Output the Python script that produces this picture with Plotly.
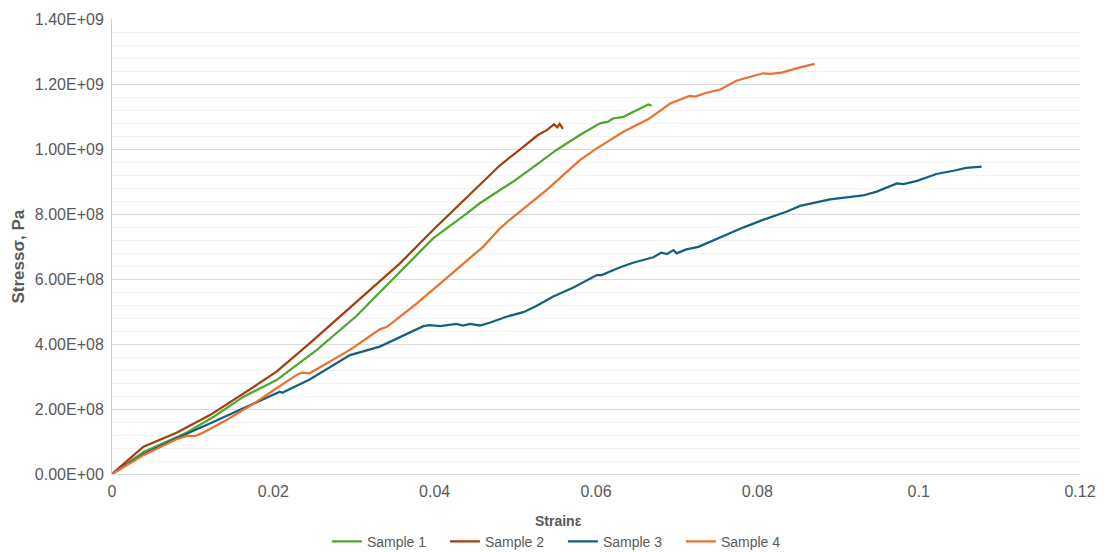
import plotly.graph_objects as go

# Stress-strain readings for each test sample
s1_strain = [0, 0.0039, 0.0080, 0.0093, 0.0126, 0.0163, 0.0204, 0.0245, 0.0254, 0.0303, 0.0357,
             0.0398, 0.0440, 0.0456, 0.0481, 0.0497, 0.0526, 0.0551, 0.0580, 0.0605, 0.0615,
             0.0621, 0.0634, 0.0646, 0.0659, 0.0665, 0.0669]
s1_stress = [0, 0.68e8, 1.13e8, 1.28e8, 1.76e8, 2.38e8, 2.89e8, 3.66e8, 3.82e8, 4.86e8, 6.22e8,
             7.25e8, 8.02e8, 8.33e8, 8.74e8, 8.99e8, 9.51e8, 9.97e8, 10.43e8, 10.79e8, 10.84e8,
             10.94e8, 10.99e8, 11.15e8, 11.30e8, 11.37e8, 11.33e8]

s2_strain = [0, 0.0039, 0.0080, 0.0122, 0.0175, 0.0204, 0.0245, 0.0307, 0.0357, 0.0398, 0.0440,
             0.0481, 0.0506, 0.0528, 0.0539, 0.0548, 0.0552, 0.0555, 0.0559]
s2_stress = [0, 0.84e8, 1.27e8, 1.82e8, 2.67e8, 3.15e8, 4.02e8, 5.38e8, 6.48e8, 7.51e8, 8.53e8,
             9.50e8, 9.99e8, 10.43e8, 10.58e8, 10.76e8, 10.67e8, 10.77e8, 10.62e8]

s3_strain = [0, 0.0040, 0.0080, 0.0122, 0.0208, 0.0211, 0.0245, 0.0295, 0.0332, 0.0386, 0.0394,
             0.0407, 0.0427, 0.0435, 0.0444, 0.0456, 0.0469, 0.0489, 0.0510, 0.0526, 0.0547,
             0.0572, 0.0601, 0.0607, 0.0630, 0.0646, 0.0671, 0.0681, 0.0688, 0.0696, 0.0700,
             0.0712, 0.0727, 0.0754, 0.0783, 0.0807, 0.0836, 0.0853, 0.0865, 0.0890, 0.0931,
             0.0948, 0.0973, 0.0981, 0.0998, 0.1022, 0.1043, 0.1059, 0.1078]
s3_stress = [0, 0.62e8, 1.10e8, 1.56e8, 2.53e8, 2.50e8, 2.91e8, 3.66e8, 3.92e8, 4.55e8, 4.58e8,
             4.55e8, 4.62e8, 4.57e8, 4.62e8, 4.57e8, 4.66e8, 4.84e8, 4.98e8, 5.17e8, 5.46e8,
             5.74e8, 6.12e8, 6.12e8, 6.36e8, 6.50e8, 6.67e8, 6.81e8, 6.77e8, 6.89e8, 6.79e8,
             6.91e8, 6.99e8, 7.28e8, 7.59e8, 7.82e8, 8.07e8, 8.25e8, 8.31e8, 8.45e8, 8.57e8,
             8.69e8, 8.94e8, 8.92e8, 9.02e8, 9.23e8, 9.33e8, 9.42e8, 9.46e8]

s4_strain = [0, 0.0039, 0.0080, 0.0093, 0.0103, 0.0111, 0.0142, 0.0179, 0.0204, 0.0229, 0.0235,
             0.0245, 0.0295, 0.0332, 0.0341, 0.0378, 0.0419, 0.0460, 0.0481, 0.0493, 0.0539,
             0.0580, 0.0601, 0.0634, 0.0665, 0.0692, 0.0716, 0.0723, 0.0737, 0.0754, 0.0774,
             0.0795, 0.0807, 0.0816, 0.0830, 0.0853, 0.0871]
s4_stress = [0, 0.58e8, 1.07e8, 1.17e8, 1.17e8, 1.25e8, 1.66e8, 2.22e8, 2.64e8, 3.05e8, 3.12e8,
             3.10e8, 3.82e8, 4.45e8, 4.53e8, 5.25e8, 6.12e8, 6.99e8, 7.56e8, 7.82e8, 8.74e8,
             9.66e8, 10.02e8, 10.53e8, 10.92e8, 11.40e8, 11.63e8, 11.61e8, 11.73e8, 11.83e8, 12.10e8,
             12.25e8, 12.33e8, 12.31e8, 12.35e8, 12.51e8, 12.62e8]

series_names = ["Sample 1", "Sample 2", "Sample 3", "Sample 4"]
series_colors = ["#4EA72E", "#A0410D", "#156082", "#E97132"]

# Axis ticks
y_tickvals = [0, 2e8, 4e8, 6e8, 8e8, 10e8, 12e8, 14e8]
y_ticktext = ["0.00E+00", "2.00E+08", "4.00E+08", "6.00E+08", "8.00E+08",
              "1.00E+09", "1.20E+09", "1.40E+09"]
x_tickvals = [0, 0.02, 0.04, 0.06, 0.08, 0.1, 0.12]
x_ticktext = ["0", "0.02", "0.04", "0.06", "0.08", "0.1", "0.12"]
y_minor_step = 4e7

x_title = "Strainε"
y_title = "Stressσ, Pa"

fig = go.Figure()
for xs, ys, name, color in zip(
        [s1_strain, s2_strain, s3_strain, s4_strain],
        [s1_stress, s2_stress, s3_stress, s4_stress],
        series_names, series_colors):
    fig.add_trace(go.Scatter(x=xs, y=ys, mode="lines", name=name,
                             line=dict(color=color, width=2.25)))

minor_vals = [i * y_minor_step for i in range(36) if (i % 5) != 0]

font_family = "Liberation Sans, Arial, sans-serif"
text_color = "#595959"

# Axis titles are placed as annotations, centred on the whole chart width
fig.add_annotation(text=f"<b>{x_title}</b>", xref="paper", yref="paper",
                   x=0.461, y=-0.103, xanchor="center", yanchor="middle",
                   showarrow=False, font=dict(size=14, color=text_color))
fig.add_annotation(text=f"<b>{y_title}</b>", xref="paper", yref="paper",
                   x=-0.0966, y=0.479, xanchor="center", yanchor="middle",
                   textangle=-90, showarrow=False, font=dict(size=17, color=text_color))

fig.update_layout(
    width=1105, height=552,
    margin=dict(l=112, r=25, t=19, b=78, autoexpand=False),
    paper_bgcolor="white", plot_bgcolor="white",
    font=dict(family=font_family, size=14, color=text_color),
    showlegend=True,
    legend=dict(orientation="h", x=0.222, xanchor="left", y=-0.114, yanchor="top",
                font=dict(size=14, color=text_color), itemwidth=30,
                entrywidth=73, entrywidthmode="pixels", tracegroupgap=0),
    xaxis=dict(range=[0, 0.12], tickmode="array", tickvals=x_tickvals, ticktext=x_ticktext,
               showgrid=False, zeroline=False, showline=True, linecolor="#d9d9d9",
               linewidth=1, ticks="", tickfont=dict(size=16, color=text_color),
               ticklabelstandoff=3, automargin=False),
    yaxis=dict(range=[0, 1.4e9], tickmode="array", tickvals=y_tickvals, ticktext=y_ticktext,
               showgrid=True, gridcolor="#d9d9d9", gridwidth=1,
               zeroline=False, showline=True, linecolor="#cccccc", linewidth=1,
               ticks="", tickfont=dict(size=16, color=text_color), ticklabelstandoff=4,
               automargin=False,
               minor=dict(tickmode="array", tickvals=minor_vals, showgrid=True,
                          gridcolor="#f2f2f2", gridwidth=1, ticks="")),
)

fig.write_html("out.html")
